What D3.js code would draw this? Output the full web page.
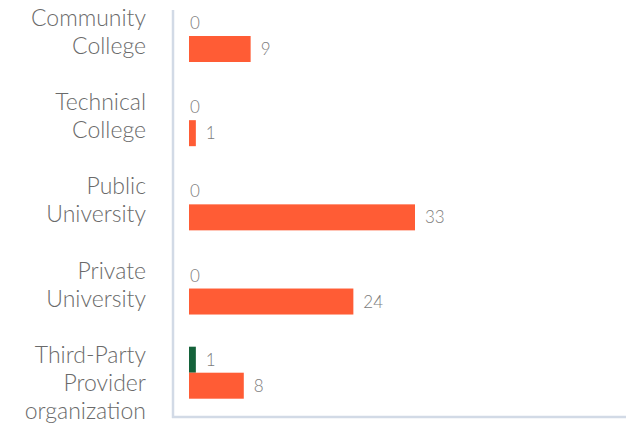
<!DOCTYPE html>
<html>
<head>
<meta charset="utf-8">
<script src="https://cdn.jsdelivr.net/npm/d3@7"></script>
<style>
  html, body { margin: 0; padding: 0; background: #fff; }
  svg { display: block; }
</style>
</head>
<body>
<svg id="chart" width="626" height="426"></svg>
<script>
// Institution types, each label split over lines
const categories = ["Community College", "Technical College", "Public University", "Private University", "Third-Party Provider organization"];
const categoryLines = [["Community", "College"], ["Technical", "College"], ["Public", "University"], ["Private", "University"], ["Third-Party", "Provider", "organization"]];
// Two series per institution type
const greenValues = [0, 0, 0, 0, 1];
const orangeValues = [9, 1, 33, 24, 8];

const svg = d3.select("#chart");
const barH = 26;

const x = d3.scaleLinear().domain([0, 33]).range([189, 415]);
const y = d3.scalePoint().domain(categories).range([36, 372.7]);

// Axis lines
svg.append("line")
  .attr("x1", 173).attr("x2", 173).attr("y1", 10).attr("y2", 418)
  .attr("stroke", "#d2dae6").attr("stroke-width", 2.5);
svg.append("line")
  .attr("x1", 172).attr("x2", 626).attr("y1", 417).attr("y2", 417)
  .attr("stroke", "#d2dae6").attr("stroke-width", 2.5);

// Category labels
const labels = svg.append("g")
  .attr("font-family", "Lato, 'Open Sans', sans-serif")
  .attr("font-weight", 300)
  .attr("font-size", 23)
  .attr("fill", "#6a6a6a")
  .attr("text-anchor", "end");
categories.forEach((c, i) => {
  const t = labels.append("text").attr("x", 146).attr("y", y(c) - 10);
  categoryLines[i].forEach((ln, j) => {
    t.append("tspan").attr("x", 146).attr("dy", j === 0 ? 0 : 28).text(ln);
  });
});

const series = [
  { values: greenValues, color: "#14623a", offset: -barH },
  { values: orangeValues, color: "#ff5c35", offset: 0 }
];

series.forEach(s => {
  svg.append("g").selectAll("rect")
    .data(categories)
    .join("rect")
    .attr("x", x(0))
    .attr("y", (c) => y(c) + s.offset)
    .attr("width", (c, i) => x(s.values[i]) - x(0))
    .attr("height", barH)
    .attr("fill", s.color);

  svg.append("g").selectAll("text")
    .data(categories)
    .join("text")
    .attr("x", (c, i) => x(s.values[i]) + (s.values[i] ? 10 : 1))
    .attr("y", (c) => y(c) + s.offset + barH / 2)
    .attr("dy", "0.36em")
    .attr("font-family", "Lato, 'Open Sans', sans-serif")
    .attr("font-weight", 300)
    .attr("font-size", 17)
    .attr("fill", "#7c7c7c")
    .text((c, i) => s.values[i]);
});
</script>
</body>
</html>
